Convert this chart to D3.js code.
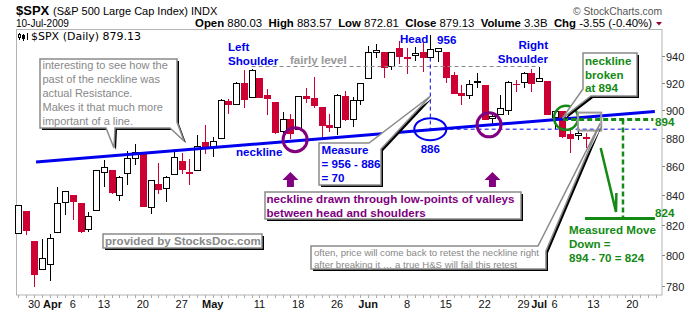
<!DOCTYPE html>
<html>
<head>
<meta charset="utf-8">
<script src="https://cdn.jsdelivr.net/npm/d3@7"></script>
<style>
  body { margin: 0; background: #fff; }
  svg { display: block; font-family: "Liberation Sans", Arial, sans-serif; }
</style>
</head>
<body>
<div id="chart"></div>
<script>
// daily candles, 2009
const dates = ["03-26","03-27","03-30","03-31","04-01","04-02","04-03","04-06","04-07","04-08","04-09",
  "04-13","04-14","04-15","04-16","04-17","04-20","04-21","04-22","04-23","04-24","04-27","04-28","04-29","04-30",
  "05-01","05-04","05-05","05-06","05-07","05-08","05-11","05-12","05-13","05-14","05-15","05-18","05-19","05-20",
  "05-21","05-22","05-26","05-27","05-28","05-29","06-01","06-02","06-03","06-04","06-05","06-08","06-09","06-10",
  "06-11","06-12","06-15","06-16","06-17","06-18","06-19","06-22","06-23","06-24","06-25","06-26","06-29","06-30",
  "07-01","07-02","07-06","07-07","07-08","07-09","07-10"];
const opens = [814.1,828.7,809.1,790.9,793.6,814.5,835.1,839.8,834.1,816.8,829.3,
  855.3,856.9,839.4,854.5,865.2,868.3,831.3,847.3,844.6,853.9,862.8,854.5,856.9,876.6,
  872.7,879.2,906.1,904.0,919.6,909.0,923.0,910.5,905.4,884.2,892.8,886.1,909.7,908.6,
  901.8,888.7,887.0,910.0,893.0,907.0,923.3,942.9,942.5,932.5,945.7,938.1,940.4,942.7,
  939.0,943.4,942.5,925.6,911.9,910.9,920.0,918.1,893.5,896.3,899.5,918.8,919.9,927.2,
  920.8,921.2,894.3,898.6,881.9,881.3,880.03];
const highs = [833.0,828.7,809.1,810.5,813.6,845.6,842.5,839.8,834.1,828.4,856.9,
  864.3,856.9,852.9,870.4,875.6,868.3,850.1,861.8,852.9,871.8,868.8,864.5,882.1,888.7,
  880.5,907.9,907.7,920.3,929.6,930.2,923.0,915.6,905.4,898.4,897.0,910.0,916.4,924.6,
  901.8,896.7,911.8,913.8,909.5,920.0,947.8,949.4,942.5,942.5,951.7,946.3,946.9,949.8,
  956.2,946.3,942.5,928.0,918.4,921.9,927.1,918.1,898.7,910.9,921.4,922.0,928.0,930.0,
  931.9,921.2,898.7,898.6,886.8,887.9,883.57];
const lows = [814.1,813.4,779.8,790.9,783.3,814.5,826.7,822.8,814.5,814.8,829.3,
  845.4,840.3,835.6,847.0,860.9,832.4,826.8,840.6,835.5,853.9,854.7,847.1,856.9,868.5,
  866.1,879.2,897.3,904.0,901.4,909.0,908.7,896.5,882.8,882.5,878.9,886.1,905.2,901.4,
  879.6,883.8,881.5,891.9,887.6,903.6,923.3,938.5,923.9,929.3,934.1,926.4,936.2,928.0,
  939.0,935.7,919.7,911.6,903.8,907.9,915.8,893.0,888.9,896.3,896.3,913.0,916.2,912.9,
  920.8,896.4,886.4,879.9,869.3,878.5,872.81];
const closes = [832.9,815.9,787.5,797.9,811.1,834.4,842.5,835.5,815.6,825.2,856.6,
  858.7,841.5,852.1,865.3,869.6,832.4,850.1,843.6,851.9,866.2,857.5,855.2,873.6,872.8,
  877.5,907.2,903.8,919.5,907.4,929.2,909.2,908.4,883.9,893.1,882.9,909.7,908.1,903.5,
  888.3,887.0,910.3,893.1,906.8,919.1,942.9,944.7,931.8,942.5,940.1,939.1,942.4,939.2,
  944.9,946.2,923.7,912.0,910.7,918.4,921.2,893.0,895.1,900.9,920.3,918.9,927.2,919.3,
  923.3,896.4,898.7,881.0,879.6,882.68,879.13];
const volumeLabel = "3.3B";

// x axis: trading days after the last bar, then the labelled dates
const futureDates = ["07-13","07-14","07-15","07-16","07-17","07-20","07-21","07-22","07-23"];
const tickDates = ["03-30","04-01","04-06","04-13","04-20","04-27","05-01","05-11","05-18","05-26",
  "06-01","06-08","06-15","06-22","06-29","07-01","07-06","07-13","07-20"];
const tickLabels = ["30","Apr","6","13","20","27","May","11","18","26","Jun","8","15","22","29","Jul","6","13","20"];
const priceTicks = [780, 800, 820, 840, 860, 880, 900, 920, 940];

const W = 700, H = 312;
const RED = "#cc0033", BLUE = "#0000ee", PURPLE = "#800080", GREEN = "#138a13", GRAY = "#8a8a8a";
const allDates = dates.concat(futureDates);
const idx = d => allDates.indexOf(d);

const x = d3.scaleLinear().domain([-0.32, 82.82]).range([16, 662]);
const y = d3.scaleLog().domain([774.5, 961]).range([295, 29]);

const svg = d3.select("#chart").append("svg")
    .attr("width", W)
    .attr("height", H);

// ---- header
svg.append("text").attr("x", 16).attr("y", 14.5)
    .style("font-size", "13px").style("font-weight", "bold").text("$SPX");
svg.append("text").attr("x", 53).attr("y", 14.5)
    .style("font-size", "11px").text("(S&P 500 Large Cap Index) INDX");
svg.append("text").attr("x", 16).attr("y", 26.5)
    .style("font-size", "10px").text("10-Jul-2009");
svg.append("text").attr("x", 662).attr("y", 14.5).attr("text-anchor", "end")
    .attr("textLength", 89).attr("lengthAdjust", "spacingAndGlyphs")
    .style("font-size", "11px").style("fill", "#555").text("\u00a9 StockCharts.com");

const last = closes.length - 1;
const chg = closes[last] - closes[last - 1];
const stats = [
    ["Open", opens[last].toFixed(2)],
    ["High", highs[last].toFixed(2)],
    ["Low", lows[last].toFixed(2)],
    ["Close", closes[last].toFixed(2)],
    ["Volume", volumeLabel],
    ["Chg", chg.toFixed(2) + " (" + (chg / closes[last - 1] * 100).toFixed(2) + "%)"]
];
const st = svg.append("text").attr("x", 652).attr("y", 26.5).attr("text-anchor", "end")
    .style("font-size", "11.4px").style("white-space", "pre");
stats.forEach((s, i) => {
    st.append("tspan").style("font-weight", "bold").text((i ? "  " : "") + s[0] + " ");
    st.append("tspan").text(s[1]);
});
svg.append("path").attr("d", "M656,22L662,22L659,25.5Z").attr("fill", "#990033");

// ---- frame
svg.append("rect").attr("x", 16.5).attr("y", 29.5).attr("width", 645.5).attr("height", 265.5)
    .attr("fill", "none").attr("stroke", "#b4b4b4");

// legend
const lg = svg.append("g").attr("stroke", "#000").attr("shape-rendering", "crispEdges");
lg.append("line").attr("x1", 19.5).attr("x2", 19.5).attr("y1", 33).attr("y2", 40);
lg.append("rect").attr("x", 18.5).attr("y", 34.5).attr("width", 2).attr("height", 3).attr("fill", "#fff");
lg.append("line").attr("x1", 23.5).attr("x2", 23.5).attr("y1", 34).attr("y2", 41);
lg.append("rect").attr("x", 22.5).attr("y", 35.5).attr("width", 2).attr("height", 3).attr("fill", "#000");
lg.append("line").attr("x1", 27.5).attr("x2", 27.5).attr("y1", 33).attr("y2", 40);
svg.append("text").attr("x", 31).attr("y", 40)
    .style("font-family", "'DejaVu Sans', sans-serif").style("font-size", "11px")
    .text("$SPX (Daily) " + closes[last].toFixed(2));

// ---- axes
const yAxis = svg.append("g").style("font-size", "11px");
priceTicks.forEach(v => {
    const yy = Math.round(y(v)) + 0.5;
    yAxis.append("line").attr("x1", 662).attr("x2", 665).attr("y1", yy).attr("y2", yy).attr("stroke", "#888");
    yAxis.append("text").attr("x", 666).attr("y", yy + 4).attr("fill", "#222").text(v);
});

const xAxis = svg.append("g");
allDates.forEach((d, i) => {
    const xx = Math.round(x(i)) + 0.5;
    xAxis.append("line").attr("x1", xx).attr("x2", xx).attr("y1", 295).attr("y2", 298).attr("stroke", "#aaa");
});
tickDates.forEach((d, k) => {
    const bold = isNaN(+tickLabels[k]);
    // "Apr" is nudged right so it clears "30"
    const nudge = tickLabels[k] === "Apr" ? 3 : 0;
    xAxis.append("text").attr("x", x(idx(d)) + nudge).attr("y", 307.5).attr("text-anchor", "middle")
        .style("font-size", "11px").style("font-weight", bold ? "bold" : "normal")
        .attr("fill", "#111").text(tickLabels[k]);
});

// ---- candles
const candles = dates.map((d, i) => ({
    i: i, o: opens[i], h: highs[i], l: lows[i], c: closes[i],
    col: (i === 0 || closes[i] >= closes[i - 1]) ? "#000" : RED
}));
const cg = svg.append("g").attr("shape-rendering", "crispEdges")
    .selectAll("g").data(candles).enter().append("g");
cg.append("line")
    .attr("x1", d => Math.round(x(d.i)) + 0.5).attr("x2", d => Math.round(x(d.i)) + 0.5)
    .attr("y1", d => y(d.h)).attr("y2", d => y(d.l))
    .attr("stroke", d => d.col);
cg.append("rect")
    .attr("x", d => Math.round(x(d.i)) - 2.5)
    .attr("width", 6)
    .attr("y", d => Math.min(y(d.o), y(d.c)))
    .attr("height", d => Math.max(0.5, Math.abs(y(d.o) - y(d.c))))
    .attr("fill", d => d.c < d.o ? d.col : "#fff")
    .attr("stroke", d => d.col);

// ---- annotations
const line = d3.line().x(d => x(d[0])).y(d => y(d[1]));

// fairly level
svg.append("path").attr("d", line([[30, 932.2], [67, 932.2]]))
    .attr("stroke", "#888").attr("stroke-dasharray", "4,3").attr("fill", "none");
// measure dashes
svg.append("path").attr("d", line([[53, 939], [53, 886], [82.2, 886]]))
    .attr("stroke", BLUE).attr("stroke-dasharray", "4,3").attr("fill", "none");
// neckline
svg.append("path").attr("d", line([[2.26, 862.8], [81.9, 898.8]]))
    .attr("stroke", BLUE).attr("stroke-width", 3).attr("fill", "none");

// circles
svg.append("ellipse").attr("cx", x(53)).attr("cy", y(886)).attr("rx", 16).attr("ry", 11)
    .attr("fill", "none").attr("stroke", BLUE).attr("stroke-width", 2);
[[35.6, 878.5], [60.56, 889.1]].forEach(p => {
    svg.append("circle").attr("cx", x(p[0])).attr("cy", y(p[1])).attr("r", 12)
        .attr("fill", "none").attr("stroke", PURPLE).attr("stroke-width", 3);
});
svg.append("circle").attr("cx", x(70.47)).attr("cy", y(894.2)).attr("r", 12)
    .attr("fill", "none").attr("stroke", GREEN).attr("stroke-width", 2.5);

// purple arrows
[35, 61].forEach(i => {
    const cx = x(i);
    svg.append("path")
        .attr("d", `M${cx},172L${cx + 8},180L${cx + 3.5},180L${cx + 3.5},187L${cx - 3.5},187L${cx - 3.5},180L${cx - 8},180Z`)
        .attr("fill", PURPLE);
});

// green measured move
svg.append("path").attr("d", line([[70.1, 893], [81.7, 893]]))
    .attr("stroke", GREEN).attr("stroke-width", 3).attr("stroke-dasharray", "5,3").attr("fill", "none");
svg.append("path").attr("d", line([[77.8, 893], [77.8, 824]]))
    .attr("stroke", GREEN).attr("stroke-width", 2.5).attr("stroke-dasharray", "5,3").attr("fill", "none");
svg.append("path").attr("d", line([[72.9, 824], [81.9, 824]]))
    .attr("stroke", GREEN).attr("stroke-width", 3).attr("fill", "none");
svg.append("path").attr("d", line([[74.93, 872.6], [76.9, 828.5], [76.95, 841.3]]))
    .attr("stroke", GREEN).attr("stroke-width", 2.5).attr("fill", "none");

// retest box
svg.append("rect").attr("x", x(72)).attr("y", y(898)).attr("width", x(75) - x(72)).attr("height", y(885) - y(898))
    .attr("fill", "none").attr("stroke", "#999").attr("stroke-width", 2);

// callout helper: white shape with gray border and black drop shadow
function callout(d) {
    svg.append("path").attr("d", d).attr("transform", "translate(2,2)").attr("fill", "#000");
    svg.append("path").attr("d", d).attr("fill", "#fff").attr("stroke", GRAY).attr("stroke-width", 1.5);
}
function lines(tx, ty, rows, step, style) {
    const t = svg.append("text").attr("x", tx).attr("y", ty);
    Object.keys(style).forEach(k => t.style(k, style[k]));
    rows.forEach((r, k) => t.append("tspan").attr("x", tx).attr("y", ty + k * step).text(r));
    return t;
}
const boldStyle = c => ({"font-size": "11.6px", "font-weight": "bold", "fill": c});

callout("M40,59H177V122L184,141L170,128H115L114,148L106,128H40Z");
lines(42.5, 69, ["interesting to see how the", "past of the neckline was", "actual Resistance.",
    "Makes it that much more", "important of a line."], 14, {"font-size": "11px", "fill": "#888"});

callout(`M319,143H369L${x(53)},${y(910)}L381,149V185H319Z`);
lines(321.5, 154, ["Measure", "= 956 - 886", "= 70"], 14, boldStyle(BLUE));

callout(`M583,53H637V96H591L${x(70)},${y(894)}L583,89Z`);
lines(585, 65, ["neckline", "broken", "at 894"], 13.5, boldStyle(GREEN));

callout(`M311,246H538L${x(74.84)},${y(890)}L546,251V269H311Z`);
lines(314, 255.5, ["often, price will come back to retest the neckline right",
    "after breaking it \u2026 a true H&S will fail this retest"], 12.3, {"font-size": "9.6px", "fill": "#888"});

callout("M265,192H521V219H265Z");
lines(266.5, 202.5, ["neckline drawn through low-points of valleys", "between head and shoulders"], 14, boldStyle(PURPLE));

callout("M103,234H262V248H103Z");
lines(105, 245, ["provided by StocksDoc.com"], 14, boldStyle("#888"));

// labels
lines(228, 51, ["Left", "Shoulder"], 14, boldStyle(BLUE));
lines(548, 49, ["Right", "Shoulder"], 14, boldStyle(BLUE)).attr("text-anchor", "end");
lines(400, 42.5, ["Head"], 14, boldStyle(BLUE));
lines(437, 44, ["956"], 14, boldStyle(BLUE));
lines(236, 156, ["neckline"], 14, boldStyle(BLUE));
lines(x(53), 152.5, ["886"], 14, boldStyle(BLUE)).attr("text-anchor", "middle");
lines(290, 63.5, ["fairly level"], 14, boldStyle("#999"));
lines(655, 125.5, ["894"], 14, boldStyle(GREEN));
lines(655, 216.5, ["824"], 14, boldStyle(GREEN));
lines(569, 233.5, ["Measured Move", "Down =", "894 - 70 = 824"], 14, boldStyle(GREEN));
</script>
</body>
</html>
